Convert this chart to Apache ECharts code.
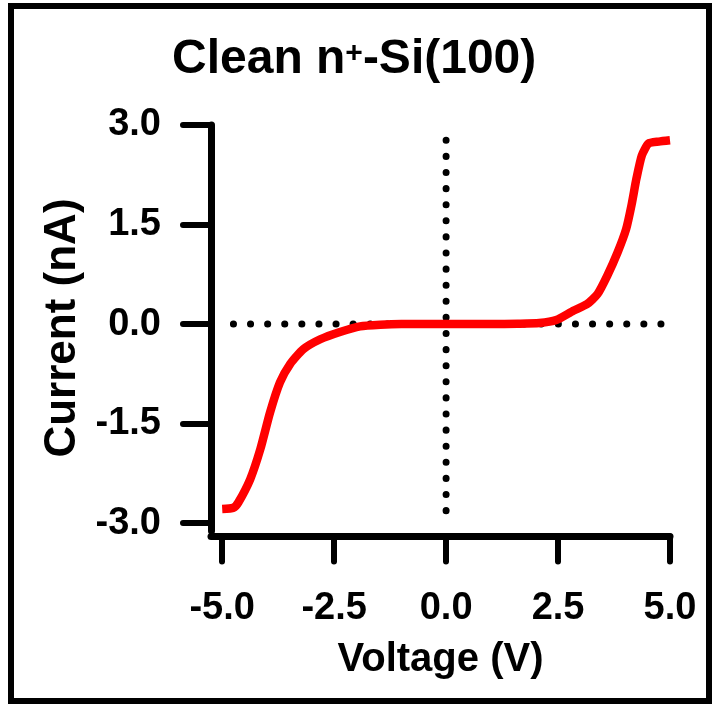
<!DOCTYPE html>
<html>
<head>
<meta charset="utf-8">
<script src="https://cdn.jsdelivr.net/npm/echarts@6/dist/echarts.min.js"></script>
<style>
  html, body { margin: 0; padding: 0; background: #fff; }
  #chart { width: 713px; height: 710px; }
</style>
</head>
<body>
<div id="chart"></div>
<script>
// I-V sweep
const voltage = [-5.0, -4.75, -4.64, -4.375, -4.15, -3.93, -3.71, -3.48, -3.19, -2.81, -2.37, -1.92, -1.47, -1.0, 0, 1.0, 1.6, 2.08, 2.46, 2.84, 3.15, 3.38, 3.6, 3.83, 4.02, 4.14, 4.25, 4.37, 4.52, 4.75, 5.0];
const current = [-2.79, -2.77, -2.69, -2.34, -1.89, -1.33, -0.88, -0.6, -0.38, -0.23, -0.12, -0.035, -0.01, 0, 0, 0, 0.005, 0.015, 0.06, 0.2, 0.3, 0.45, 0.73, 1.08, 1.43, 1.79, 2.19, 2.54, 2.72, 2.75, 2.77];

// dotted zero guides
const zeroV = [[0, 2.77], [0, -2.84]];
const zeroH = [[-4.75, 0], [4.9, 0]];

const xTicks = [-5, -2.5, 0, 2.5, 5];
const yTicks = [-3, -1.5, 0, 1.5, 3];

const FONT = "'Liberation Sans', Arial, sans-serif";

const chart = echarts.init(document.getElementById('chart'));

const axisCommon = {
    type: 'value',
    splitLine: { show: false },
    axisLine: { show: true, onZero: false, lineStyle: { color: '#000', width: 7 } },
    axisTick: { show: true, lineStyle: { color: '#000', width: 6, cap: 'round' } },
    axisLabel: {
        color: '#000',
        fontFamily: FONT,
        fontWeight: 'bold',
        fontSize: 38,
        formatter: (v) => v.toFixed(1),
    },
    nameTextStyle: { color: '#000', fontFamily: FONT, fontWeight: 'bold' },
};

chart.setOption({
    animation: false,
    backgroundColor: '#fff',
    title: {
        text: '{a|Clean n}{s|+}{a|-Si(100)}',
        left: 172,
        top: 36,
        padding: 0,
        textStyle: {
            rich: {
                a: { fontFamily: FONT, fontWeight: 'bold', fontSize: 48, color: '#000' },
                s: { fontFamily: FONT, fontWeight: 'bold', fontSize: 30, color: '#000', padding: [0, 0, 12, 0] },
            },
        },
    },
    graphic: [{
        type: 'rect',
        shape: { x: 11, y: 6, width: 698, height: 695 },
        style: { fill: null, stroke: '#000', lineWidth: 6 },
    }],
    grid: { left: 211, right: 43, top: 125, bottom: 179, containLabel: false },
    xAxis: Object.assign({}, axisCommon, {
        min: -5.25,
        max: 5,
        offset: 5.5,
        name: 'Voltage (V)',
        nameLocation: 'middle',
        nameGap: 103,
        nameTextStyle: Object.assign({}, axisCommon.nameTextStyle, { fontSize: 40 }),
        axisTick: Object.assign({}, axisCommon.axisTick, { length: 25, customValues: xTicks }),
        axisLabel: Object.assign({}, axisCommon.axisLabel, { margin: 53, customValues: xTicks }),
    }),
    yAxis: Object.assign({}, axisCommon, {
        min: -3.12,
        max: 3,
        name: 'Current (nA)',
        nameLocation: 'middle',
        nameGap: 124,
        nameTextStyle: Object.assign({}, axisCommon.nameTextStyle, { fontSize: 44 }),
        axisTick: Object.assign({}, axisCommon.axisTick, { length: 28, customValues: yTicks }),
        axisLabel: Object.assign({}, axisCommon.axisLabel, { margin: 50, customValues: yTicks }),
    }),
    series: [
        {
            type: 'line',
            data: zeroV,
            symbol: 'none',
            silent: true,
            lineStyle: { color: '#000', width: 7, type: [0.1, 16], cap: 'round' },
        },
        {
            type: 'line',
            data: zeroH,
            symbol: 'none',
            silent: true,
            lineStyle: { color: '#000', width: 7, type: [0.1, 17], cap: 'round' },
        },
        {
            type: 'line',
            data: voltage.map((v, i) => [v, current[i]]),
            symbol: 'none',
            smooth: 0.2,
            lineStyle: { color: '#ff0000', width: 8.5, join: 'round' },
        },
    ],
});

window.onresize = () => chart.resize();
</script>
</body>
</html>
